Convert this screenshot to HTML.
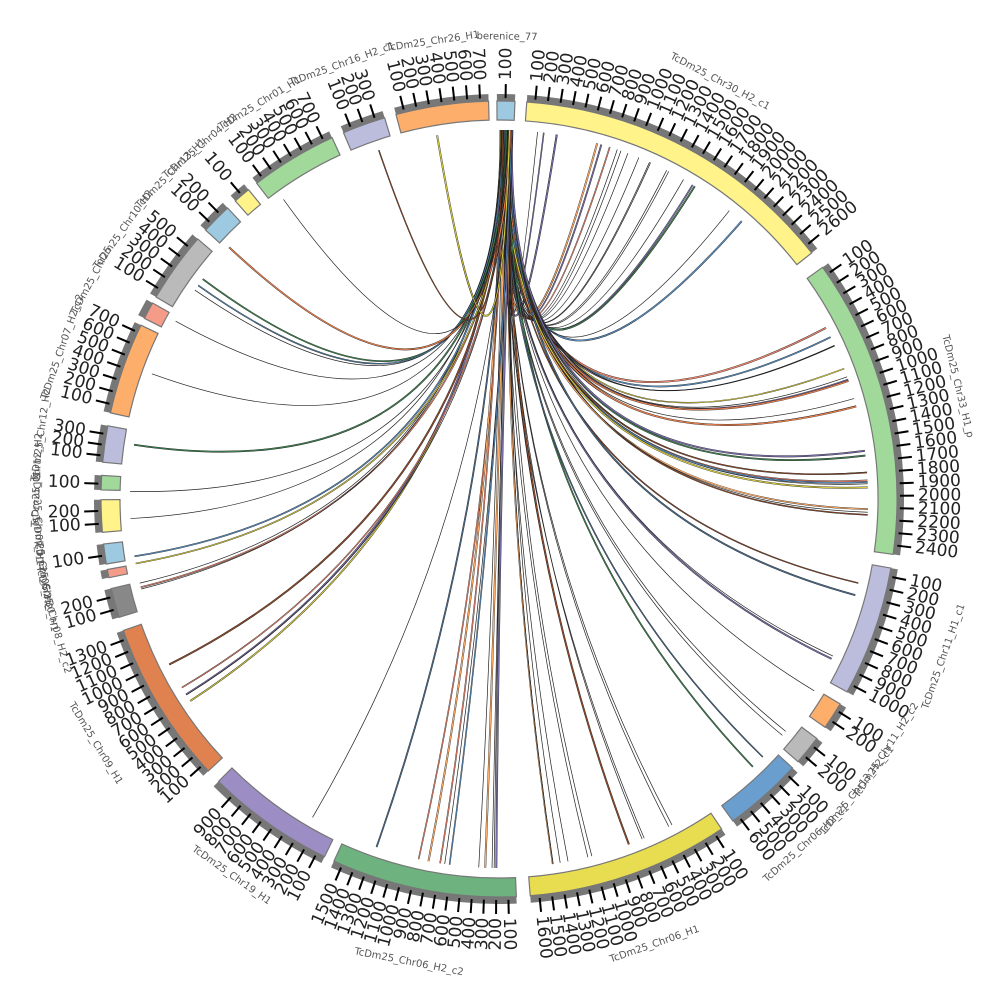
<!DOCTYPE html>
<html><head><meta charset="utf-8">
<style>html,body{margin:0;padding:0;background:#fff;}svg{display:block}</style>
</head><body>
<svg id="s" width="1000" height="1000" viewBox="0 0 1000 1000" xmlns="http://www.w3.org/2000/svg"></svg>
<script>
const cx=499,cy=499,R1=379,R2=398,RG=405;
const NS="http://www.w3.org/2000/svg";
const svg=document.getElementById('s');
function P(a,r){const t=(a-90)*Math.PI/180;return [cx+r*Math.cos(t),cy+r*Math.sin(t)];}
function el(tag,attrs,txt){const e=document.createElementNS(NS,tag);for(const k in attrs)e.setAttribute(k,attrs[k]);if(txt!==undefined)e.textContent=txt;svg.appendChild(e);return e;}
function sector(a1,a2,r1,r2){const p1=P(a1,r2),p2=P(a2,r2),p3=P(a2,r1),p4=P(a1,r1);const l=(a2-a1)>180?1:0;
return `M${p1[0]},${p1[1]} A${r2},${r2} 0 ${l} 1 ${p2[0]},${p2[1]} L${p3[0]},${p3[1]} A${r1},${r1} 0 ${l} 0 ${p4[0]},${p4[1]} Z`;}
let seed=7;function rnd(){seed=(seed*16807)%2147483647;return (seed-1)/2147483646;}

const segs=[
[-0.3,2.3,'#9ecae1',1,'berenice_77'],
[4,51.8,'#fff38a',26,'TcDm25_Chr30_H2_c1'],
[54.4,98,'#a1d99b',24,'TcDm25_Chr33_H1_p'],
[100,119,'#bcbddc',10,'TcDm25_Chr11_H1_c1'],
[121,125,'#fdae6b',2,'TcDm25_Chr11_H2_c2'],
[127,131.3,'#bababa',2,'TcDm25_Chr13_H2_c1'],
[132.5,144,'#6a9ecf',6,'TcDm25_Chr06_H2_c1'],
[146,175.5,'#e8dc50',16,'TcDm25_Chr06_H1'],
[177.5,204.5,'#6db27f',15,'TcDm25_Chr06_H2_c2'],
[206,224.8,'#9c8ec4',9,'TcDm25_Chr19_H1'],
[226.9,250.7,'#e0824f',13,'TcDm25_Chr09_H1'],
[252.7,257,'#888888',2,'TcDm25_Chr08_H2_c2'],
[258.6,259.8,'#f59c88',0,'TcDm25_Chr30_H1'],
[260.6,263.5,'#9ecae1',1,'TcDm25_Chr05_H2'],
[265.2,269.9,'#fff38a',2,'TcDm25_Chr07_H1'],
[271.3,273.4,'#a1d99b',1,'TcDm25_Chr12_H2'],
[275.3,280.6,'#bcbddc',3,'TcDm25_Chr12_H2'],
[282.5,295.9,'#fdae6b',7,'TcDm25_Chr07_H2_c2'],
[297,299.5,'#f59c88',0,'TcDm25_Chr25'],
[300.5,310.8,'#bababa',5,'TcDm25_Chr10_H2'],
[312.5,317,'#9ecae1',2,'TcDm25_Chr13_H1'],
[318.5,321,'#fff38a',1,'TcDm25_Chr04_H2'],
[322.5,335.2,'#a1d99b',7,'TcDm25_Chr01_H1'],
[337,343.3,'#bcbddc',3,'TcDm25_Chr16_H2_c1'],
[345,358.5,'#fdae6b',7,'TcDm25_Chr26_H1']
];

const cols=['#e8804f','#5a8fc0','#d8cc40','#3f7f4f','#8b4a2b','#fdae6b','#7a6fa8','#222','#f08870','#4a6a8a'];
function link(s,t,c,w){const a=P(s,369),b=P(t,369);
 const d=`M${a[0]},${a[1]} Q${cx},${cy} ${b[0]},${b[1]}`;
 if(c==='#222'){el('path',{d:d,fill:'none',stroke:'#222','stroke-width':0.7});}
 else{el('path',{d:d,fill:'none',stroke:'#1a1a1a','stroke-width':w+0.7});el('path',{d:d,fill:'none',stroke:c,'stroke-width':w});}
}
const targets=[
[6,10,4],[12,20,5],[20,28,6],[28,36,3],[38,46,2],
[60,64,2],[64,70,4],[70,76,6],[80,88,7],[88,96,4],
[102,106,2],[108,116,2],[121,124,1],[127,130,2],[134,140,2],
[152,160,6],[162,172,6],[180,184,5],[186,194,5],[199,202,1],
[208,212,1],[236,244,5],[253,257,3],[259,260,1],[261,263,1],[266,268,1],[271,273,1],[277,279,1],
[285,290,1],[298,299,1],[304,308,3],[313,315,1],[323,327,1],[339,341,1],[350,352,1]
];
for(const [a,b,n] of targets){for(let i=0;i<n;i++){const t=a+(b-a)*rnd();const s=0.2+1.9*rnd();
 const c=rnd()<0.5?'#222':cols[Math.floor(rnd()*cols.length)];link(s,t,c,0.7+rnd()*0.6);}}

for(const [a1,a2,c,n,name] of segs){
 el('path',{d:sector(a1,a2,R2,RG),fill:'#777'});
 el('path',{d:sector(a1,a2,R1,R2),fill:c,stroke:'#777','stroke-width':1.2});
 let step=1.84;if(n>0&&(a2-a1)<step*(n+0.2))step=(a2-a1)/(n+0.4);
 for(let k=1;k<=n;k++){const a=a1+k*step-0.6;
  const p1=P(a,RG-4),p2=P(a,415);
  el('line',{x1:p1[0],y1:p1[1],x2:p2[0],y2:p2[1],stroke:'#000','stroke-width':2});
  const p=P(a,419);let rot,anc;
  if(a>=0&&a<180){rot=a-90;anc='start';}else{rot=a+90;anc='end';}
  el('text',{x:p[0],y:p[1],transform:`rotate(${rot} ${p[0]} ${p[1]})`,'text-anchor':anc,'dominant-baseline':'central','font-family':'DejaVu Sans, Liberation Sans, sans-serif','font-size':17,fill:'#222'},String(k*100));
 }
 const m=(a1+a2)/2; const rn=(n>=10)?472:462; const p=P(m,rn);
 let rot=(m>90&&m<270)?m+180:m;
 el('text',{x:p[0],y:p[1],transform:`rotate(${rot} ${p[0]} ${p[1]})`,'text-anchor':'middle','dominant-baseline':'central','font-family':'DejaVu Sans, Liberation Sans, sans-serif','font-size':10,fill:'#555'},name);
}
</script>
</body></html>
